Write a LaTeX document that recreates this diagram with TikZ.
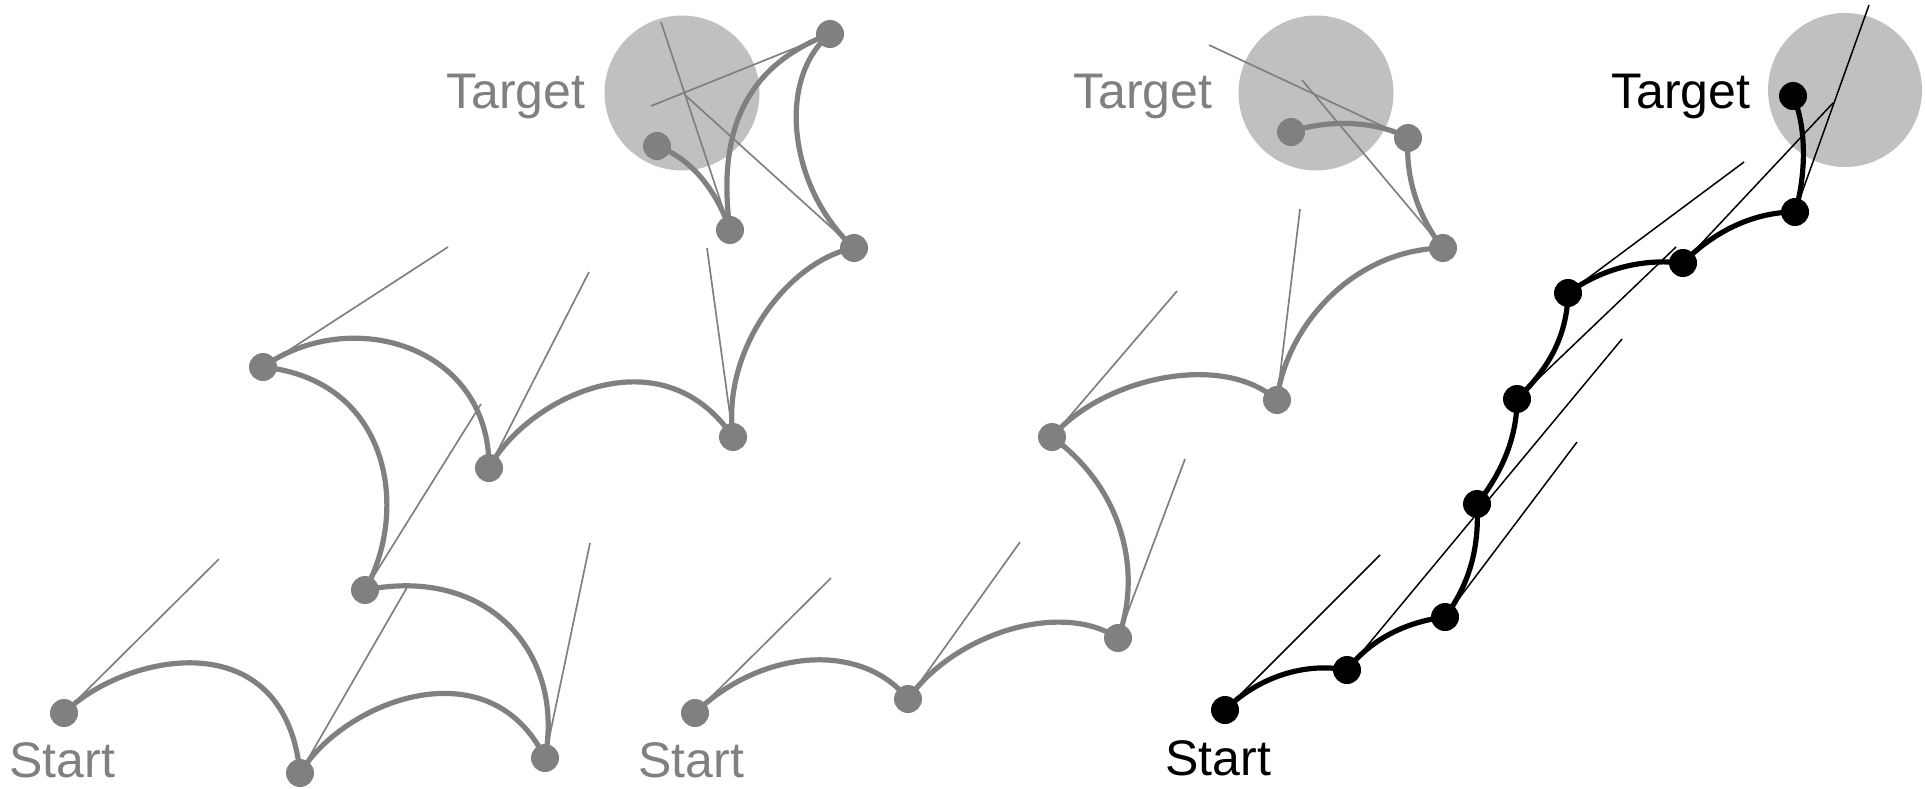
\documentclass[tikz,border=0pt]{standalone}
\usepackage{fontspec}
\setmainfont{Liberation Sans}
\definecolor{dotgray}{HTML}{808080}
\definecolor{tgtgray}{HTML}{C0C0C0}
\begin{document}
\begin{tikzpicture}[x=0.5pt,y=-0.5pt,
  gdot/.style={circle,fill=dotgray,inner sep=0pt,minimum size=14pt},
  bdot/.style={circle,fill=black,inner sep=0pt,minimum size=14pt},
  gcurve/.style={draw=dotgray,line width=2.6pt},
  bcurve/.style={draw=black,line width=2.6pt},
  gline/.style={draw=dotgray,line width=0.85pt},
  bline/.style={draw=black,line width=0.75pt},
  goal/.style={circle,fill=tgtgray,inner sep=0pt,minimum size=#1},
  lbl/.style={anchor=base west,inner sep=0pt,font=\fontsize{25pt}{30pt}\selectfont},
]
\useasboundingbox (0,0) rectangle (1925,788);

% ---------------- Panel 1 ----------------
\node[goal=77.5pt] (t1) at (682,93) {};
\node[lbl,text=dotgray] (tl1) at (446,108) {Target};
\node[lbl,text=dotgray] (sl1) at (9,777) {Start};
\node[gdot] (a0) at (64,713) {};
\node[gdot] (a1) at (300,773) {};
\node[gdot] (a2) at (545,758) {};
\node[gdot] (a3) at (365,590) {};
\node[gdot] (a4) at (263,367) {};
\node[gdot] (a5) at (489,468) {};
\node[gdot] (a6) at (733,437) {};
\node[gdot] (a7) at (854,248) {};
\node[gdot] (a8) at (830,34) {};
\node[gdot] (a9) at (730,230) {};
\node[gdot] (a10) at (657,146) {};
\coordinate (ha0) at (219,559);
\coordinate (ha1) at (409,584);
\coordinate (ha2) at (590,543);
\coordinate (ha3) at (481,404);
\coordinate (ha4) at (448,247);
\coordinate (ha5) at (589,272);
\coordinate (ha6) at (707,248);
\coordinate (ha7) at (685,95);
\coordinate (ha8) at (651,106);
\coordinate (ha9) at (661,22);
\foreach \n in {0,...,9} {\draw[gline] (a\n.center) -- (ha\n);}
\draw[gcurve] (a0.center) .. controls (125,653) and (285,620) .. (a1.center);
\draw[gcurve] (a1.center) .. controls (345,700) and (490,645) .. (a2.center);
\draw[gcurve] (a2.center) .. controls (565,655) and (490,565) .. (a3.center);
\draw[gcurve] (a3.center) .. controls (410,510) and (390,380) .. (a4.center);
\draw[gcurve] (a4.center) .. controls (350,305) and (490,345) .. (a5.center);
\draw[gcurve] (a5.center) .. controls (525,400) and (660,330) .. (a6.center);
\draw[gcurve] (a6.center) .. controls (721,348) and (790,260) .. (a7.center);
\draw[gcurve] (a7.center) .. controls (790,190) and (775,80) .. (a8.center);
\draw[gcurve] (a8.center) .. controls (755,62) and (715,120) .. (a9.center);
\draw[gcurve] (a9.center) .. controls (718,195) and (695,160) .. (a10.center);

% ---------------- Panel 2 ----------------
\node[goal=77.5pt] (t2) at (1316,93) {};
\node[lbl,text=dotgray] (tl2) at (1073,108) {Target};
\node[lbl,text=dotgray] (sl2) at (638,777) {Start};
\node[gdot] (b0) at (695,713) {};
\node[gdot] (b1) at (908,699) {};
\node[gdot] (b2) at (1118,638) {};
\node[gdot] (b3) at (1052,437) {};
\node[gdot] (b4) at (1277,400) {};
\node[gdot] (b5) at (1443,248) {};
\node[gdot] (b6) at (1408,138) {};
\node[gdot] (b7) at (1291,132) {};
\coordinate (hb0) at (831,578);
\coordinate (hb1) at (1020,542);
\coordinate (hb2) at (1185,459);
\coordinate (hb3) at (1177,291);
\coordinate (hb4) at (1300,209);
\coordinate (hb5) at (1302,80);
\coordinate (hb6) at (1209,45);
\foreach \n in {0,...,6} {\draw[gline] (b\n.center) -- (hb\n);}
\draw[gcurve] (b0.center) .. controls (760,650) and (860,640) .. (b1.center);
\draw[gcurve] (b1.center) .. controls (954,634) and (1060,600) .. (b2.center);
\draw[gcurve] (b2.center) .. controls (1142,575) and (1125,490) .. (b3.center);
\draw[gcurve] (b3.center) .. controls (1100,380) and (1220,350) .. (b4.center);
\draw[gcurve] (b4.center) .. controls (1285,330) and (1350,250) .. (b5.center);
\draw[gcurve] (b5.center) .. controls (1420,220) and (1405,180) .. (b6.center);
\draw[gcurve] (b6.center) .. controls (1380,122) and (1330,118) .. (b7.center);

% ---------------- Panel 3 ----------------
\node[goal=77pt] (t3) at (1845,90) {};
\node[lbl,text=black] (tl3) at (1611,108) {Target};
\node[lbl,text=black] (sl3) at (1165,775) {Start};
\node[bdot] (c0) at (1225,710) {};
\node[bdot] (c1) at (1347,670) {};
\node[bdot] (c2) at (1445,617) {};
\node[bdot] (c3) at (1477,504) {};
\node[bdot] (c4) at (1517,399) {};
\node[bdot] (c5) at (1568,293) {};
\node[bdot] (c6) at (1683,263) {};
\node[bdot] (c7) at (1795,212) {};
\node[bdot] (c8) at (1793,96) {};
\coordinate (hc0) at (1380,555);
\coordinate (hc1) at (1622,339);
\coordinate (hc2) at (1577,442);
\coordinate (hc4) at (1676,247);
\coordinate (hc5) at (1744,162);
\coordinate (hc6) at (1833,103);
\coordinate (hc7) at (1869,5);
\foreach \n in {0,1,2,4,5,6,7} {\draw[bline] (c\n.center) -- (hc\n);}
\draw[bcurve] (c0.center) .. controls (1258,677) and (1305,662) .. (c1.center);
\draw[bcurve] (c1.center) .. controls (1370,640) and (1405,622) .. (c2.center);
\draw[bcurve] (c2.center) .. controls (1465,590) and (1480,555) .. (c3.center);
\draw[bcurve] (c3.center) .. controls (1500,475) and (1517,440) .. (c4.center);
\draw[bcurve] (c4.center) .. controls (1545,372) and (1567,340) .. (c5.center);
\draw[bcurve] (c5.center) .. controls (1600,270) and (1640,258) .. (c6.center);
\draw[bcurve] (c6.center) .. controls (1710,235) and (1750,212) .. (c7.center);
\draw[bcurve] (c7.center) .. controls (1805,180) and (1808,130) .. (c8.center);
\end{tikzpicture}
\end{document}
